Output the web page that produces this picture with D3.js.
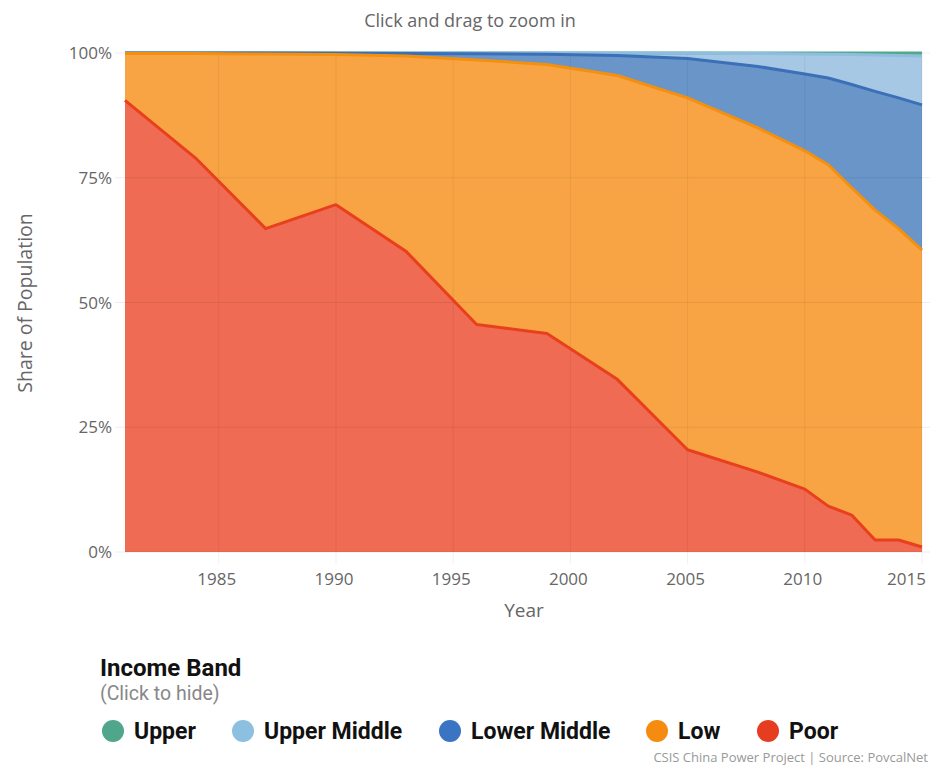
<!DOCTYPE html>
<html>
<head>
    <title>China Income Bands</title>
    <script src="https://cdnjs.cloudflare.com/ajax/libs/d3/7.8.5/d3.min.js"></script>
    <style>
        body { margin: 0; background: #fff; }
        text { font-family: "Open Sans", sans-serif; }
        .legend-title, .legend-item { font-family: Roboto, sans-serif; }
    </style>
</head>
<body>
    <svg id="chart"></svg>

    <script>
        // survey years
        const years = [1981, 1984, 1987, 1990, 1993, 1996, 1999, 2002, 2005, 2008, 2010, 2011, 2012, 2013, 2014, 2015];

        // share of population (%) in each band
        const poor        = [90.5, 79.0, 64.8, 69.6, 60.2, 45.6, 43.8, 34.6, 20.5, 16.0, 12.6, 9.2, 7.4, 2.4, 2.4, 1.0];
        const low         = [9.4, 20.9, 35.0, 30.1, 39.2, 53.0, 53.9, 60.9, 70.5, 69.0, 67.8, 68.4, 65.6, 66.1, 62.4, 59.5];
        const lowerMiddle = [0.1, 0.1, 0.18, 0.25, 0.5, 1.25, 2.05, 4.0, 7.9, 12.3, 15.4, 17.4, 20.7, 23.8, 26.2, 29.1];
        const upperMiddle = [0, 0, 0.02, 0.05, 0.1, 0.15, 0.25, 0.5, 1.07, 2.6, 4.0, 4.75, 6.0, 7.3, 8.5, 9.8];
        const upper       = [0, 0, 0, 0, 0, 0, 0, 0, 0.03, 0.1, 0.2, 0.25, 0.3, 0.4, 0.5, 0.6];

        const xTicks = [1985, 1990, 1995, 2000, 2005, 2010, 2015];
        const yTicks = [0, 25, 50, 75, 100];

        const legendNames = ["Upper", "Upper Middle", "Lower Middle", "Low", "Poor"];

        const width = 930, height = 766;
        const plotLeft = 125, plotRight = 922, plotTop = 53, plotBottom = 552;

        const series = [
            {key: "poor",        name: "Poor",         values: poor,        fill: "#ef6b53", line: "#e8401c", dot: "#e63d20"},
            {key: "low",         name: "Low",          values: low,         fill: "#f8a444", line: "#f5900e", dot: "#f58b0f"},
            {key: "lowerMiddle", name: "Lower Middle", values: lowerMiddle, fill: "#6995c9", line: "#3b6fb8", dot: "#3a74c2"},
            {key: "upperMiddle", name: "Upper Middle", values: upperMiddle, fill: "#a6c8e4", line: "#8fbde0", dot: "#8dbfe0"},
            {key: "upper",       name: "Upper",        values: upper,       fill: "#6ab59a", line: "#52a98a", dot: "#4fa68a"}
        ];

        const table = years.map((yr, i) => {
            const row = {year: yr};
            series.forEach(s => row[s.key] = s.values[i]);
            return row;
        });

        const stacked = d3.stack().keys(series.map(s => s.key))(table);

        const svg = d3.select("#chart")
            .attr("width", width)
            .attr("height", height);

        const x = d3.scaleLinear().domain([1981, 2015]).range([plotLeft, plotRight]);
        const y = d3.scaleLinear().domain([0, 100]).range([plotBottom, plotTop]);

        // title hint
        svg.append("text")
            .attr("x", 470).attr("y", 27)
            .attr("text-anchor", "middle")
            .attr("font-size", 18)
            .attr("fill", "#666")
            .text("Click and drag to zoom in");

        // areas
        const area = d3.area()
            .x(d => x(d.data.year))
            .y0(d => y(d[0]))
            .y1(d => y(d[1]));

        svg.append("g").selectAll("path")
            .data(stacked)
            .join("path")
            .attr("d", area)
            .attr("fill", (d, i) => series[i].fill);

        // grid lines over the areas
        svg.append("g").selectAll("line")
            .data(xTicks)
            .join("line")
            .attr("x1", d => x(d)).attr("x2", d => x(d))
            .attr("y1", plotTop).attr("y2", plotBottom + 12)
            .attr("stroke", "rgba(0,0,0,0.06)");

        svg.append("g").selectAll("line")
            .data(yTicks)
            .join("line")
            .attr("x1", plotLeft - 10).attr("x2", width)
            .attr("y1", d => y(d)).attr("y2", d => y(d))
            .attr("stroke", "rgba(0,0,0,0.07)");

        // top edge lines, poor drawn last
        const line = d3.line()
            .x(d => x(d.data.year))
            .y(d => y(d[1]));

        svg.append("g").selectAll("path")
            .data(stacked.slice().reverse())
            .join("path")
            .attr("d", line)
            .attr("fill", "none")
            .attr("stroke-width", 3)
            .attr("stroke-linejoin", "round")
            .attr("stroke", d => series[d.index].line);

        // y axis labels
        svg.append("g").selectAll("text")
            .data(yTicks)
            .join("text")
            .attr("x", plotLeft - 13)
            .attr("y", d => y(d) + 6)
            .attr("text-anchor", "end")
            .attr("font-size", 17)
            .attr("fill", "#666")
            .text(d => d + "%");

        // x axis labels
        svg.append("g").selectAll("text")
            .data(xTicks)
            .join("text")
            .attr("x", d => d === 2015 ? 926 : x(d) - 2)
            .attr("y", 585)
            .attr("text-anchor", d => d === 2015 ? "end" : "middle")
            .attr("font-size", 17)
            .attr("fill", "#666")
            .text(d => d);

        svg.append("text")
            .attr("x", 524).attr("y", 617)
            .attr("text-anchor", "middle")
            .attr("font-size", 19)
            .attr("fill", "#666")
            .text("Year");

        svg.append("text")
            .attr("transform", "translate(32,303) rotate(-90)")
            .attr("text-anchor", "middle")
            .attr("font-size", 19.5)
            .attr("fill", "#666")
            .text("Share of Population");

        // legend
        svg.append("text")
            .attr("class", "legend-title")
            .attr("x", 100).attr("y", 676)
            .attr("font-size", 24)
            .attr("font-weight", "bold")
            .attr("fill", "#111")
            .text("Income Band");

        svg.append("text")
            .attr("class", "legend-title")
            .attr("x", 100).attr("y", 700)
            .attr("font-size", 19.5)
            .attr("fill", "#888")
            .text("(Click to hide)");

        const legendX = [113, 243, 450, 657, 768];
        const legendSeries = legendNames.map(n => series.find(s => s.name === n));

        const item = svg.append("g").selectAll("g")
            .data(legendSeries)
            .join("g")
            .attr("transform", (d, i) => `translate(${legendX[i]},731)`);

        item.append("circle")
            .attr("r", 11)
            .attr("fill", d => d.dot);

        item.append("text")
            .attr("class", "legend-item")
            .attr("x", 21).attr("y", 8)
            .attr("font-size", 23)
            .attr("font-weight", "bold")
            .attr("fill", "#111")
            .text(d => d.name);

        svg.append("text")
            .attr("x", 928).attr("y", 762)
            .attr("text-anchor", "end")
            .attr("font-size", 13)
            .attr("fill", "#999")
            .text("CSIS China Power Project | Source: PovcalNet");
    </script>
</body>
</html>
